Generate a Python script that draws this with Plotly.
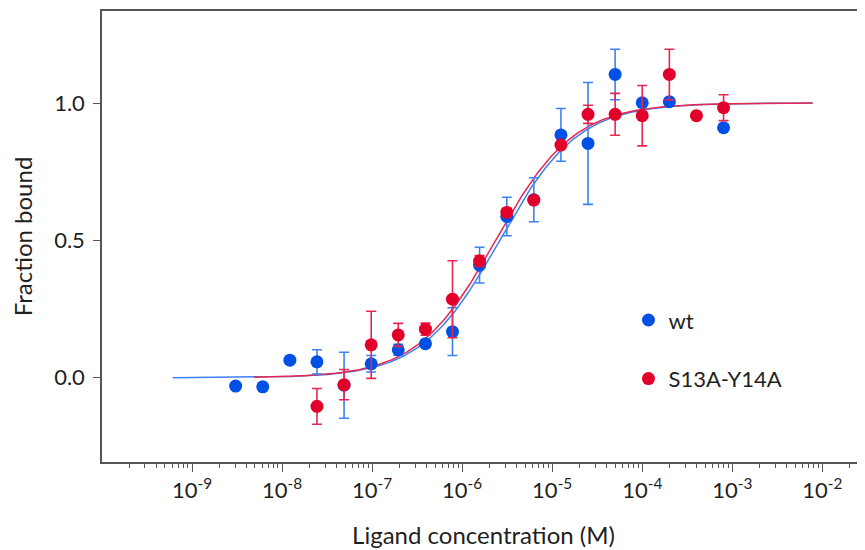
import numpy as np
import plotly.graph_objects as go

# Ligand concentrations (M), 2-fold dilution series
conc = [3.05e-9, 6.1e-9, 1.22e-8, 2.44e-8, 4.88e-8, 9.77e-8, 1.95e-7, 3.91e-7,
        7.81e-7, 1.56e-6, 3.13e-6, 6.25e-6, 1.25e-5, 2.5e-5, 5e-5, 1e-4,
        2e-4, 4e-4, 8e-4]

wt_y = [-0.030, -0.033, 0.064, 0.058, -0.027, 0.051, 0.102, 0.124,
        0.168, 0.410, 0.587, 0.648, 0.884, 0.853, 1.104, 1.001,
        1.005, None, 0.910]
wt_err = [0, 0, 0, 0.044, 0.120, 0.030, 0.020, 0.012,
          0.087, 0.065, 0.070, 0.080, 0.096, 0.222, 0.092, 0,
          0, 0, 0]

mut_y = [None, None, None, -0.104, -0.025, 0.120, 0.156, 0.177,
         0.286, 0.425, 0.602, 0.647, 0.847, 0.959, 0.959, 0.954,
         1.104, 0.954, 0.983]
mut_err = [0, 0, 0, 0.065, 0.055, 0.122, 0.042, 0.022,
           0.140, 0.020, 0.015, 0, 0, 0.033, 0.076, 0.110,
           0.092, 0, 0.047]

# fitted dissociation constants (M) and fit-curve extents
kd_wt = 2.6e-6
kd_mut = 2.35e-6
fit_wt_range = (6.1e-10, 7.8e-3)
fit_mut_range = (4.9e-9, 7.8e-3)

x_ticks = [1e-9, 1e-8, 1e-7, 1e-6, 1e-5, 1e-4, 1e-3, 1e-2]
x_ticktext = ["10<sup>-9</sup>", "10<sup>-8</sup>", "10<sup>-7</sup>", "10<sup>-6</sup>",
              "10<sup>-5</sup>", "10<sup>-4</sup>", "10<sup>-3</sup>", "10<sup>-2</sup>"]
y_ticks = [0.0, 0.5, 1.0]
y_ticktext = ["0.0", "0.5", "1.0"]

BLUE = "#0050e6"
BLUE_LINE = "#3f80f2"
RED = "#e2002b"
RED_LINE = "#e8274f"
FONT = "Lato"
TXT = "#1f1f1f"

def fit_curve(kd, rng):
    xs = np.logspace(np.log10(rng[0]), np.log10(rng[1]), 400)
    return xs, xs / (xs + kd)

minor_vals = [m * 10.0 ** e for e in range(-10, -1) for m in range(2, 10)]

fig = go.Figure()

xw, yw = fit_curve(kd_wt, fit_wt_range)
xm, ym = fit_curve(kd_mut, fit_mut_range)
fig.add_trace(go.Scatter(x=xw, y=yw, mode="lines", line=dict(color=BLUE_LINE, width=1.5),
                         showlegend=False, hoverinfo="skip"))
fig.add_trace(go.Scatter(x=xm, y=ym, mode="lines", line=dict(color=RED_LINE, width=1.5),
                         showlegend=False, hoverinfo="skip"))

fig.add_trace(go.Scatter(
    x=conc, y=wt_y, mode="markers", name="wt", legendgroup="wt",
    marker=dict(color=BLUE, size=13),
    error_y=dict(type="data", array=wt_err, visible=True, color=BLUE_LINE,
                 thickness=1.6, width=5)))
fig.add_trace(go.Scatter(
    x=conc, y=mut_y, mode="markers", name="S13A-Y14A", legendgroup="mut",
    marker=dict(color=RED, size=13),
    error_y=dict(type="data", array=mut_err, visible=True, color=RED_LINE,
                 thickness=1.6, width=5)))

fig.update_layout(
    width=857, height=542,
    margin=dict(l=94, r=0, t=3, b=88),
    paper_bgcolor="white", plot_bgcolor="white",
    font=dict(family=FONT, size=22, color=TXT),
    showlegend=True,
    legend=dict(x=0.690, y=0.361, xanchor="left", yanchor="top",
                traceorder="grouped", tracegroupgap=27,
                bgcolor="rgba(0,0,0,0)", font=dict(family=FONT, size=22, color=TXT)),
    xaxis=dict(
        type="log", range=[-10, -1.526], automargin=False,
        tickmode="array", tickvals=x_ticks, ticktext=x_ticktext,
        ticks="outside", ticklen=8, tickwidth=1.2, tickcolor="#555555",
        showline=True, linecolor="#555555", linewidth=1.5, mirror=True,
        showgrid=False, zeroline=False,
        minor=dict(tickmode="array", tickvals=minor_vals, ticks="outside",
                   ticklen=4, tickwidth=1, tickcolor="#555555", showgrid=False),
        tickfont=dict(family=FONT, size=22, color=TXT),
        title=dict(text="Ligand concentration (M)", standoff=25,
                   font=dict(family=FONT, size=24, color=TXT)),
    ),
    yaxis=dict(
        range=[-0.3065, 1.335], automargin=False,
        tickmode="array", tickvals=y_ticks, ticktext=y_ticktext,
        ticks="outside", ticklen=7, tickwidth=1.2, tickcolor="#555555",
        ticklabelstandoff=4,
        showline=True, linecolor="#555555", linewidth=1.5,
        showgrid=False, zeroline=False,
        tickfont=dict(family=FONT, size=22, color=TXT),
        title=dict(text="Fraction bound", standoff=18,
                   font=dict(family=FONT, size=24, color=TXT)),
    ),
)

fig.write_html("out.html")
